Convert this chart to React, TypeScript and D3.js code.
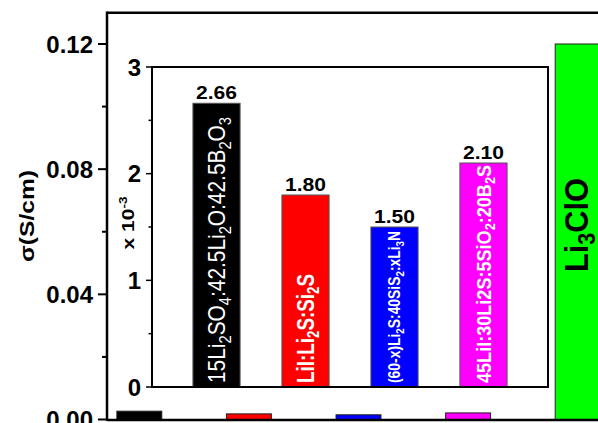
import React from "react";
import * as d3 from "d3";

// conductivity values, inset in units of 1e-3 S/cm
const insetNames = [
  "15Li_2SO_4:42.5Li_2O:42.5B_2O_3",
  "LiI:Li_2S:Si_2S",
  "(60-x)Li_2S:40SiS_2:xLi_3N",
  "45LiI:30Li2S:5SiO_2:20B_2S",
];
const insetValues = [2.66, 1.8, 1.5, 2.1];
const insetValueLabels = ["2.66", "1.80", "1.50", "2.10"];

const mainNames = [...insetNames, "Li_3ClO"];
const mainValues = [0.00266, 0.0018, 0.0015, 0.0021, 0.12];
const barColors = ["#000000", "#ff0000", "#0000ff", "#ff00ff", "#00ff00"];

const mainTicks = [0, 0.04, 0.08, 0.12];
const mainMinor = [0.02, 0.06, 0.1];
const insetTicks = [0, 1, 2, 3];
const insetMinor = [0.5, 1.5, 2.5];

// per-label text lengths inside bars (px)
const barLabelLen = [266, 109, 152, 218, 94];
const barLabelSize = [24, 23, 16, 20, 33];
const barLabelWeight = ["normal", "bold", "bold", "bold", "bold"];

const FONT = "'Liberation Sans', Arial, Helvetica, sans-serif";

// split "Li_2O" into normal/subscript pieces
function chem(s: string, size: number) {
  const parts = s.split(/(_\d)/).filter((p) => p.length > 0);
  const shift = size * 0.24;
  let down = false;
  return parts.map((p, i) => {
    if (p[0] === "_") {
      down = true;
      return (
        <tspan key={i} fontSize={size * 0.7} dy={shift}>
          {p.slice(1)}
        </tspan>
      );
    }
    const dy = down ? -shift : undefined;
    down = false;
    return (
      <tspan key={i} dy={dy}>
        {p}
      </tspan>
    );
  });
}

export default function App() {
  // main axes
  const y = d3.scaleLinear([0, 0.13], [419.5, 12.7]);
  const x = d3
    .scaleBand<number>()
    .domain(d3.range(mainValues.length))
    .range([107, 610])
    .paddingInner(0.59)
    .paddingOuter(0.09);

  // inset axes
  const iy = d3.scaleLinear([0, 3], [387, 67]);
  const ix = d3
    .scaleBand<number>()
    .domain(d3.range(insetValues.length))
    .range([152, 548])
    .paddingInner(0.47)
    .paddingOuter(0.46);

  const fmt = d3.format(".2f");

  return (
    <svg
      width={598}
      height={423}
      style={{ position: "absolute", left: 0, top: 0 }}
      fontFamily={FONT}
    >
      <rect width={598} height={423} fill="#fff" />

      {/* main bars */}
      {mainValues.map((v, i) => (
        <rect
          key={i}
          x={x(i)}
          y={y(v)}
          width={x.bandwidth()}
          height={y(0) - y(v)}
          fill={barColors[i]}
          stroke="#222"
          strokeWidth={1}
        />
      ))}

      {/* main frame */}
      <line x1={107} x2={598} y1={y(0.13)} y2={y(0.13)} stroke="#000" strokeWidth={2.5} />
      <line x1={107} x2={107} y1={y(0.13) - 1.2} y2={y(0) + 1.2} stroke="#000" strokeWidth={2.5} />
      <line x1={107} x2={598} y1={y(0) + 0.5} y2={y(0) + 0.5} stroke="#000" strokeWidth={2.5} />
      {mainTicks.map((t) => (
        <g key={t}>
          <line x1={98} x2={107} y1={y(t)} y2={y(t)} stroke="#000" strokeWidth={2} />
          <text
            x={93}
            y={y(t)}
            dy="0.36em"
            textAnchor="end"
            fontSize={24}
            fontWeight="bold"
          >
            {fmt(t)}
          </text>
        </g>
      ))}
      {mainMinor.map((t) => (
        <line key={t} x1={102} x2={107} y1={y(t)} y2={y(t)} stroke="#000" strokeWidth={2} />
      ))}
      <text
        transform="translate(27,216) rotate(-90)"
        textAnchor="middle"
        dy="0.35em"
        fontSize={20}
        fontWeight="bold"
        textLength={92}
        lengthAdjust="spacingAndGlyphs"
      >
        σ(S/cm)
      </text>

      {/* green bar label */}
      <text
        transform={`translate(${x(4)! + x.bandwidth() / 2 - 2},272) rotate(-90)`}
        dy="0.36em"
        fontSize={barLabelSize[4]}
        fontWeight="bold"
        fill="#000"
        textLength={barLabelLen[4]}
        lengthAdjust="spacingAndGlyphs"
      >
        {chem(mainNames[4], barLabelSize[4])}
      </text>

      {/* inset */}
      <rect x={152} y={67} width={396} height={320} fill="#fff" stroke="#000" strokeWidth={2} />
      {insetValues.map((v, i) => {
        const cx = ix(i)! + ix.bandwidth() / 2;
        return (
          <g key={i}>
            <rect
              x={ix(i)}
              y={iy(v)}
              width={ix.bandwidth()}
              height={iy(0) - iy(v)}
              fill={barColors[i]}
              stroke="#555"
              strokeWidth={1}
            />
            <text
              x={cx}
              y={iy(v) - 4}
              textAnchor="middle"
              fontSize={19}
              fontWeight="bold"
              textLength={41}
              lengthAdjust="spacingAndGlyphs"
            >
              {insetValueLabels[i]}
            </text>
            <text
              transform={`translate(${cx},${iy(0) - 4}) rotate(-90)`}
              dy="0.36em"
              fontSize={barLabelSize[i]}
              fontWeight={barLabelWeight[i]}
              fill="#fff"
              textLength={barLabelLen[i]}
              lengthAdjust="spacingAndGlyphs"
            >
              {chem(insetNames[i], barLabelSize[i])}
            </text>
          </g>
        );
      })}
      <line x1={152} x2={548} y1={iy(0)} y2={iy(0)} stroke="#000" strokeWidth={2} />
      {insetTicks.map((t) => (
        <g key={t}>
          <line x1={146} x2={152} y1={iy(t)} y2={iy(t)} stroke="#000" strokeWidth={1.5} />
          <text
            x={141}
            y={iy(t)}
            dy="0.36em"
            textAnchor="end"
            fontSize={24}
            fontWeight="bold"
          >
            {t}
          </text>
        </g>
      ))}
      {insetMinor.map((t) => (
        <line key={t} x1={148.5} x2={152} y1={iy(t)} y2={iy(t)} stroke="#000" strokeWidth={1.5} />
      ))}
      <text
        transform="translate(128,223) rotate(-90)"
        textAnchor="middle"
        dy="0.35em"
        fontSize={17}
        fontWeight="bold"
        textLength={53}
        lengthAdjust="spacingAndGlyphs"
      >
        <tspan>x 10</tspan>
        <tspan fontSize={11} dy={-7}>
          -3
        </tspan>
      </text>
    </svg>
  );
}
